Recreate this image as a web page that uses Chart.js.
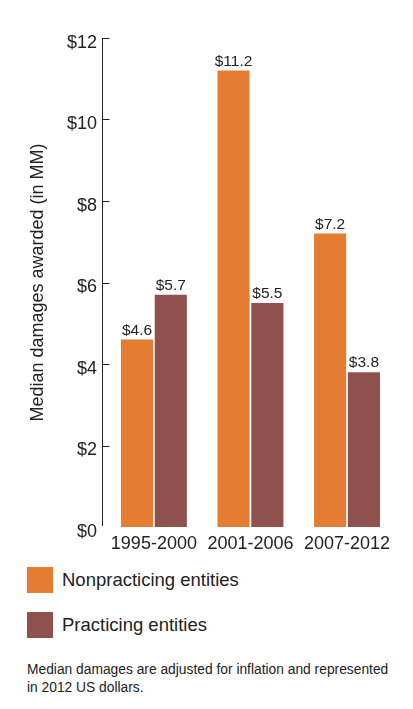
<!DOCTYPE html>
<html>
<head>
<meta charset="utf-8">
<script src="https://cdn.jsdelivr.net/npm/chart.js@4/dist/chart.umd.min.js"></script>
<style>
    html, body { margin: 0; padding: 0; background: #fff; }
    body { width: 413px; height: 709px; position: relative; overflow: hidden;
        font-family: 'Liberation Sans', Arial, sans-serif; color: #222; }
    #wrap { position: absolute; left: 0; top: 0; width: 413px; height: 560px; }
    .legend-item { position: absolute; left: 27px; height: 26px; }
    .legend-item .box { position: absolute; left: 0; top: 0; width: 26px; height: 26px; }
    .legend-item .label { position: absolute; left: 35px; top: 0; line-height: 26px;
        font-size: 18.5px; white-space: nowrap; }
    #note { position: absolute; left: 27px; top: 661px; font-size: 13.8px;
        line-height: 18px; white-space: nowrap; color: #222; }
</style>
</head>
<body>
<div id="wrap"><canvas id="chart" width="413" height="560"></canvas></div>
<div class="legend-item" style="top:567px"><div class="box" id="box0"></div><div class="label" id="lab0"></div></div>
<div class="legend-item" style="top:612px"><div class="box" id="box1"></div><div class="label" id="lab1"></div></div>
<div id="note">Median damages are adjusted for inflation and represented<br>in 2012 US dollars.</div>
<script>
const categories = ['1995-2000', '2001-2006', '2007-2012'];
const seriesNames = ['Nonpracticing entities', 'Practicing entities'];
const nonpracticing = [4.6, 11.2, 7.2];
const practicing = [5.7, 5.5, 3.8];
const yTicks = [0, 2, 4, 6, 8, 10, 12];
const colors = ['#E47C31', '#8E514E'];

const FONT = "'Liberation Sans', Arial, sans-serif";

// html legend
seriesNames.forEach((name, i) => {
    document.getElementById('box' + i).style.background = colors[i];
    document.getElementById('lab' + i).textContent = name;
});

// value labels over bars
const barLabels = {
    id: 'barLabels',
    afterDatasetsDraw(chart) {
        const ctx = chart.ctx;
        ctx.save();
        ctx.font = '15.5px ' + FONT;
        ctx.fillStyle = '#222';
        ctx.textAlign = 'center';
        ctx.textBaseline = 'alphabetic';
        chart.data.datasets.forEach((ds, di) => {
            chart.getDatasetMeta(di).data.forEach((bar, i) => {
                ctx.fillText('$' + ds.data[i].toFixed(1), bar.x, bar.y - 5);
            });
        });
        ctx.restore();
    },
};

// y axis line with short ticks pointing into the plot
const axisLine = {
    id: 'axisLine',
    afterDraw(chart) {
        const ctx = chart.ctx;
        const y = chart.scales.y;
        const x0 = Math.round(chart.chartArea.left - 4) + 0.5;
        ctx.save();
        ctx.strokeStyle = '#222';
        ctx.lineWidth = 1;
        ctx.beginPath();
        ctx.moveTo(x0, y.getPixelForValue(yTicks[yTicks.length - 1]));
        ctx.lineTo(x0, y.getPixelForValue(0) - 1);
        yTicks.forEach((v) => {
            if (v === 0) return;
            const py = Math.round(y.getPixelForValue(v)) + 0.5;
            ctx.moveTo(x0, py);
            ctx.lineTo(x0 + 7, py);
        });
        ctx.stroke();
        ctx.restore();
    },
};

new Chart(document.getElementById('chart'), {
    type: 'bar',
    data: {
        labels: categories,
        datasets: [
            {
                label: seriesNames[0],
                data: nonpracticing,
                backgroundColor: colors[0],
                borderWidth: 0,
            },
            {
                label: seriesNames[1],
                data: practicing,
                backgroundColor: colors[1],
                borderWidth: 0,
            },
        ],
    },
    options: {
        responsive: false,
        animation: false,
        categoryPercentage: 0.7,
        barPercentage: 0.95,
        layout: {
            padding: { top: 38, right: 17.7, bottom: 0, left: 0 },
        },
        plugins: {
            legend: { display: false },
            tooltip: { enabled: false },
        },
        scales: {
            x: {
                grid: { display: false, drawTicks: false },
                border: { display: false },
                ticks: {
                    color: '#222',
                    padding: 6,
                    font: { family: FONT, size: 18 },
                },
                afterFit(scale) {
                    scale.height = 33;
                },
            },
            y: {
                min: 0,
                max: 12,
                grid: { display: false, drawTicks: false },
                border: { display: false },
                afterBuildTicks(scale) {
                    scale.ticks = yTicks.map((v) => ({ value: v }));
                },
                ticks: {
                    color: '#222',
                    padding: 8.6,
                    labelOffset: 5,
                    font: { family: FONT, size: 18 },
                    callback: (v) => '$' + v,
                },
                title: {
                    display: true,
                    text: 'Median damages awarded (in MM)',
                    color: '#222',
                    font: { family: FONT, size: 18 },
                    padding: { top: 27, bottom: 0 },
                },
                afterFit(scale) {
                    scale.width = 105.6;
                },
            },
        },
    },
    plugins: [barLabels, axisLine],
});
</script>
</body>
</html>
